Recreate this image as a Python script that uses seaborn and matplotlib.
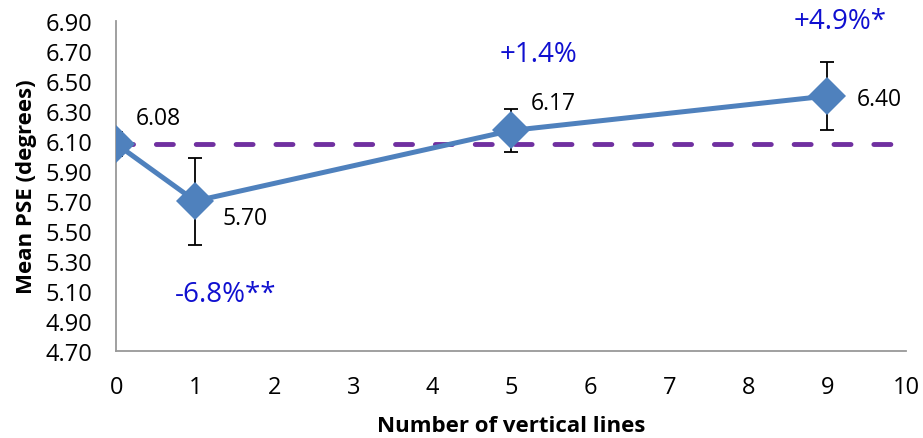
import matplotlib
matplotlib.use("Agg")
import matplotlib.pyplot as plt
import seaborn as sns
import pandas as pd

# number of vertical lines vs mean PSE
n_lines = [0, 1, 5, 9]
mean_pse = [6.08, 5.70, 6.17, 6.40]
err = [0.08, 0.29, 0.14, 0.225]
value_labels = ["6.08", "5.70", "6.17", "6.40"]
baseline = 6.08
pct_labels = ["-6.8%**", "+1.4%", "+4.9%*"]
pct_x = [1.38, 5.34, 9.16]
pct_y = [5.08, 6.68, 6.90]

sns.set_style("white")
plt.rcParams["font.family"] = ["Open Sans", "DejaVu Sans"]
plt.rcParams["text.color"] = "black"
plt.rcParams["axes.labelcolor"] = "black"
plt.rcParams["xtick.color"] = "black"
plt.rcParams["ytick.color"] = "black"

df = pd.DataFrame({"n": n_lines, "pse": mean_pse})

fig = plt.figure(figsize=(9.23, 4.39), dpi=100)
ax = fig.add_axes([0.126, 0.198, 0.856, 0.752])

ax.axhline(baseline, color="#7030a0", lw=3.5, ls=(0, (3.5, 4.7)), zorder=1,
           dash_capstyle="round")
ax.errorbar(n_lines, mean_pse, yerr=err, fmt="none", ecolor="black",
            elinewidth=1.3, capsize=5, capthick=1.3, zorder=2)
sns.lineplot(data=df, x="n", y="pse", ax=ax, color="#4f81bd", lw=3.6,
             marker="D", markersize=19, markeredgewidth=0, zorder=3)

offsets = [(0.24, 0.17), (0.35, -0.11), (0.24, 0.18), (0.37, -0.02)]
for x, y, lab, (dx, dy) in zip(n_lines, mean_pse, value_labels, offsets):
    ax.text(x + dx, y + dy, lab, fontsize=16.5, va="center", ha="left")

for x, y, lab in zip(pct_x, pct_y, pct_labels):
    ax.text(x, y, lab, fontsize=20, color="#1010d0", ha="center", va="center",
            clip_on=False)

ax.set_xlim(0, 10)
ax.set_ylim(4.70, 6.90)
ax.set_xticks(range(0, 11))
ax.set_yticks([4.70 + 0.2 * i for i in range(12)])
ax.set_yticklabels([f"{4.70 + 0.2 * i:.2f}" for i in range(12)])
ax.tick_params(labelsize=17, length=0)
ax.tick_params(axis="y", pad=17)
ax.tick_params(axis="x", pad=17)
for s in ["top", "right"]:
    ax.spines[s].set_visible(False)
for s in ["left", "bottom"]:
    ax.spines[s].set_color("#999999")
    ax.spines[s].set_linewidth(1.3)

ax.set_xlabel("Number of vertical lines", fontsize=16, fontweight="bold", labelpad=12)
ax.set_ylabel("Mean PSE (degrees)", fontsize=16, fontweight="bold", labelpad=6)

fig.savefig("out.png", dpi=100)
